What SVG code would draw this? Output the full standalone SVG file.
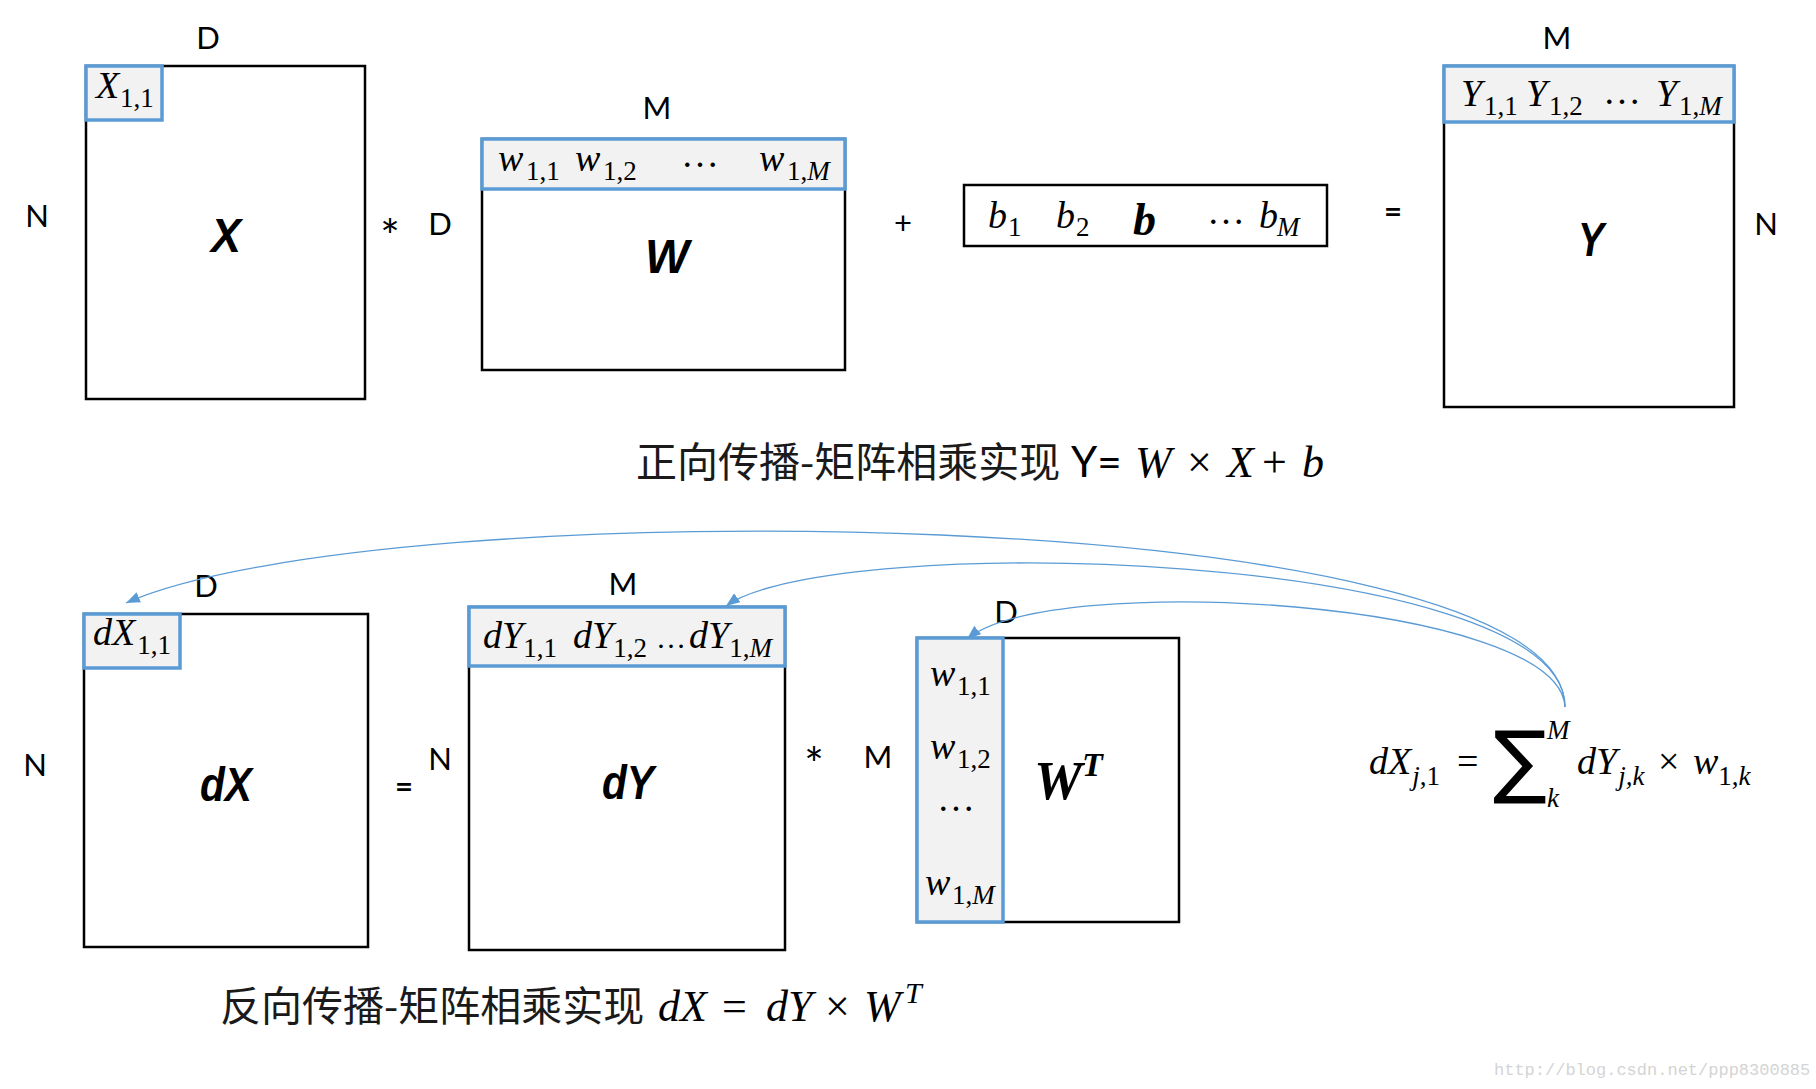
<svg xmlns="http://www.w3.org/2000/svg" width="1816" height="1089" viewBox="0 0 1816 1089">
<style>
.box{fill:#fff;stroke:#000;stroke-width:2.5}
.hl{fill:#f2f2f2;stroke:#5b9bd5;stroke-width:3.5}
.lbl{font-family:Lato,"Liberation Sans",sans-serif;font-size:31px;fill:#000;text-anchor:middle}
.ast{font-family:Lato,"Liberation Sans",sans-serif;font-size:46px;fill:#000;text-anchor:middle}
.big{font-family:"Liberation Sans",Arial,sans-serif;font-weight:bold;font-style:italic;font-size:49px;fill:#000;text-anchor:middle}
.m{font-family:"Liberation Serif","Times New Roman",serif;font-style:italic;font-size:38px;fill:#000}
.s{font-size:27px;font-style:normal}
.si{font-size:27px;font-style:italic}
.up{font-style:normal}
.con{fill:none;stroke:#5b9bd5;stroke-width:1.3}
.cap{font-family:"Noto Sans CJK SC",sans-serif;font-size:41px;fill:#1a1a1a}
.cm{font-family:"Liberation Serif","Times New Roman",serif;font-style:italic;font-size:44px;fill:#000}
</style>
<defs>
<marker id="arr" markerUnits="userSpaceOnUse" markerWidth="14" markerHeight="11" refX="14" refY="5.5" orient="auto">
<path d="M0,0 L14,5.5 L0,11 z" fill="#5b9bd5"/>
</marker>
</defs>
<rect width="1816" height="1089" fill="#fff"/>

<!-- Forward pass -->
<g id="X">
<rect class="box" x="86" y="66" width="279" height="333"/>
<rect class="hl" x="86" y="66" width="76" height="54"/>
<text class="m" x="96" y="98">X<tspan class="s" x="120" y="107">1,1</tspan></text>
<text class="big" x="226" y="252" textLength="30" lengthAdjust="spacingAndGlyphs">X</text>
</g>
<text class="lbl" x="208" y="49">D</text>
<text class="lbl" x="37" y="227">N</text>
<text class="ast" x="390" y="253">*</text>
<text class="lbl" x="440" y="235">D</text>

<g id="W">
<rect class="box" x="482" y="139" width="363" height="231"/>
<rect class="hl" x="482" y="139" width="363" height="50"/>
<text class="m" y="171"><tspan x="498">w</tspan><tspan class="s" x="526" y="180">1,1</tspan><tspan x="575" y="171">w</tspan><tspan class="s" x="603" y="180">1,2</tspan><tspan class="up" x="681" y="167">…</tspan><tspan x="759" y="171">w</tspan><tspan class="s" x="787" y="180">1,</tspan><tspan class="si" y="180">M</tspan></text>
<text class="big" x="667" y="273" textLength="44" lengthAdjust="spacingAndGlyphs">W</text>
</g>
<text class="lbl" x="657" y="119">M</text>
<text class="lbl" x="903" y="234">+</text>

<g id="b">
<rect class="box" x="964" y="185" width="363" height="61"/>
<text class="m" y="228"><tspan x="988">b</tspan><tspan class="s" x="1008" y="236">1</tspan><tspan x="1056" y="228">b</tspan><tspan class="s" x="1076" y="236">2</tspan><tspan class="up" x="1207" y="224">…</tspan><tspan x="1259" y="228">b</tspan><tspan class="si" x="1277" y="236">M</tspan></text>
<text x="1133" y="235" style="font-family:'Liberation Serif',serif;font-weight:bold;font-style:italic;font-size:46px">b</text>
</g>
<text class="lbl" x="1393" y="222" style="font-weight:bold">=</text>

<g id="Y">
<rect class="box" x="1444" y="66" width="290" height="341"/>
<rect class="hl" x="1444" y="66" width="290" height="56"/>
<text class="m" y="106"><tspan x="1461">Y</tspan><tspan class="s" x="1484" y="115">1,1</tspan><tspan x="1526" y="106">Y</tspan><tspan class="s" x="1549" y="115">1,2</tspan><tspan class="up" x="1603" y="104">…</tspan><tspan x="1656" y="106">Y</tspan><tspan class="s" x="1679" y="115">1,</tspan><tspan class="si" y="115">M</tspan></text>
<text class="big" x="1591" y="256" textLength="26" lengthAdjust="spacingAndGlyphs">Y</text>
</g>
<text class="lbl" x="1557" y="49">M</text>
<text class="lbl" x="1766" y="235">N</text>

<text class="cap" x="636" y="477">正向传播-矩阵相乘实现</text>
<text x="1071" y="477" style="font-family:Lato,'Liberation Sans',sans-serif;font-size:42px">Y=</text>
<text class="cm" y="477"><tspan x="1135">W</tspan><tspan class="up" x="1187">×</tspan><tspan x="1227">X</tspan><tspan class="up" x="1262">+</tspan><tspan x="1302">b</tspan></text>

<!-- Backward pass -->
<g id="dX">
<rect class="box" x="84" y="614" width="284" height="333"/>
<rect class="hl" x="84" y="614" width="96" height="54"/>
<text class="m" x="93" y="645">dX<tspan class="s" dx="2" y="654">1,1</tspan></text>
<text class="big" x="226" y="801" textLength="52" lengthAdjust="spacingAndGlyphs">dX</text>
</g>
<text class="lbl" x="206" y="597">D</text>
<text class="lbl" x="35" y="776">N</text>
<text class="lbl" x="404" y="797" style="font-weight:bold">=</text>
<text class="lbl" x="440" y="770">N</text>

<g id="dY">
<rect class="box" x="469" y="607" width="316" height="343"/>
<rect class="hl" x="469" y="607" width="316" height="59"/>
<text class="m" y="648"><tspan x="483">dY</tspan><tspan class="s" y="657">1,1</tspan><tspan x="573" y="648">dY</tspan><tspan class="s" y="657">1,2</tspan><tspan class="up" x="656" y="648" style="font-size:30px">…</tspan><tspan x="689" y="648">dY</tspan><tspan class="s" y="657">1,</tspan><tspan class="si" y="657">M</tspan></text>
<text class="big" x="628" y="799" textLength="52" lengthAdjust="spacingAndGlyphs">dY</text>
</g>
<text class="lbl" x="623" y="595">M</text>
<text class="ast" x="814" y="781">*</text>
<text class="lbl" x="878" y="768">M</text>

<g id="WT">
<rect class="box" x="917" y="638" width="262" height="284"/>
<rect class="hl" x="917" y="638" width="86" height="284"/>
<text class="m"><tspan x="930" y="686">w</tspan><tspan class="s" x="957" y="695">1,1</tspan><tspan x="930" y="759">w</tspan><tspan class="s" x="957" y="768">1,2</tspan><tspan class="up" x="937" y="811">…</tspan><tspan x="925" y="895">w</tspan><tspan class="s" x="952" y="904">1,</tspan><tspan class="si" y="904">M</tspan></text>
<text x="1034" y="799" style="font-family:'Liberation Serif',serif;font-weight:bold;font-style:italic;font-size:54px">W</text>
<text x="1082" y="776" style="font-family:'Liberation Serif',serif;font-weight:bold;font-style:italic;font-size:34px">T</text>
</g>
<text class="lbl" x="1006" y="623">D</text>

<g id="formula">
<text class="m" y="774"><tspan x="1369">dX</tspan><tspan class="si" dx="1" y="785">j</tspan><tspan class="s" y="785">,1</tspan><tspan class="up" x="1457" y="774">=</tspan><tspan x="1577">dY</tspan><tspan class="si" dx="1" y="785">j,k</tspan><tspan class="up" x="1658" y="774">×</tspan><tspan x="1693" y="774">w</tspan><tspan class="s" y="785">1,</tspan><tspan class="si" y="785">k</tspan></text>
<text x="1493" y="788" style="font-family:'DejaVu Sans',sans-serif;font-size:80px">∑</text>
<text class="m si" x="1547" y="739">M</text>
<text class="m si" x="1547" y="807">k</text>
</g>

<text class="cap" x="220" y="1021">反向传播-矩阵相乘实现</text>
<text class="cm" y="1021"><tspan x="658">dX</tspan><tspan class="up" x="722">=</tspan><tspan x="766">dY</tspan><tspan class="up" x="825">×</tspan><tspan x="864">W</tspan><tspan x="905" y="1003" style="font-size:30px">T</tspan></text>

<text x="1494" y="1075" style="font-family:'Liberation Mono',monospace;font-size:17px;fill:#d4d4d4">http://blog.csdn.net/ppp8300885</text>

<g id="connectors">
<path class="con" marker-end="url(#arr)" d="M1565,707 C1565,500 380,490 126,603"/>
<path class="con" marker-end="url(#arr)" d="M1565,707 C1565,550 830,530 726,606"/>
<path class="con" marker-end="url(#arr)" d="M1565,707 C1560,600 1050,570 967,639"/>
</g>
</svg>
